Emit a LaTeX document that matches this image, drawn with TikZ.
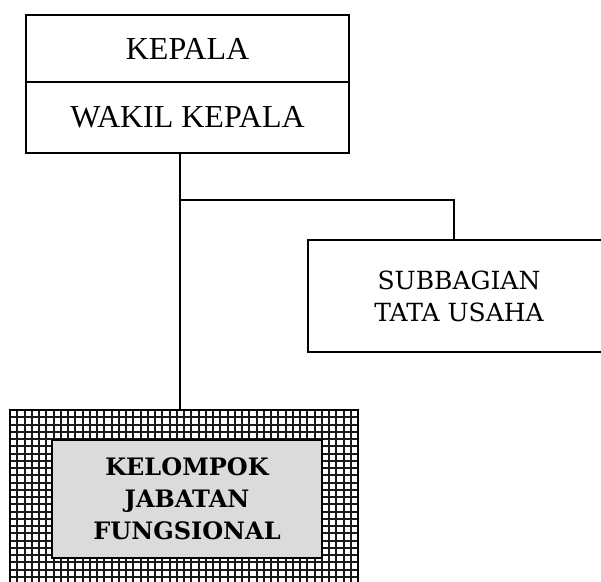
\documentclass[tikz,border=0pt]{standalone}
\usepackage{fontspec}
\setmainfont{Liberation Serif}
\newfontfamily\slabfont{DejaVu Serif}
\usetikzlibrary{calc}
\tikzset{
  orgbox/.style={draw, line width=1.3pt, rectangle, inner sep=0pt, align=center},
  orgline/.style={line width=1.3pt},
  gridline/.style={line width=2pt, black!90},
}

\begin{document}
\begin{tikzpicture}[x=1pt,y=-1pt]
				\clip (0,0) rectangle (601,581);
				\fill[white] (0,0) rectangle (601,581);
				
				% top box
				\node[orgbox, minimum width=323pt, minimum height=67pt, font=\fontsize{32}{38}\selectfont] (kepala) at (187.5,48.5) {KEPALA};
				\node[orgbox, minimum width=323pt, minimum height=71pt, font=\fontsize{32}{38}\selectfont] (wakil) at (187.5,117.5) {WAKIL KEPALA};
				
				% staff box
				\node[orgbox, minimum width=302pt, minimum height=112pt, font=\slabfont\fontsize{25}{32}\selectfont] (subbag) at (459,296) {SUBBAGIAN\\TATA USAHA};
				
				% functional group, grid frame
				\foreach \gx in {0,...,48}
					\draw[gridline] ({10+\gx*7.25},410) -- ({10+\gx*7.25},600);
				\foreach \gy in {0,...,26}
					\draw[gridline] (10,{410+\gy*7.25}) -- (358,{410+\gy*7.25});
				\node[orgbox, minimum width=348pt, minimum height=190pt] (kjf) at (184,505) {};
				\node[orgbox, fill=black!14, minimum width=270pt, minimum height=118pt, font=\slabfont\bfseries\fontsize{24}{32}\selectfont] (fungsi) at (187,499) {KELOMPOK\\JABATAN\\FUNGSIONAL};
				
				% connectors
				\coordinate (trunk) at (180,200);
				\coordinate (drop) at ($(subbag.north)+(-5,0)$);
				\draw[orgline] (trunk |- wakil.south) -- (trunk |- kjf.north);
				\draw[orgline] (trunk) -| (drop);
			\end{tikzpicture}
\end{document}
